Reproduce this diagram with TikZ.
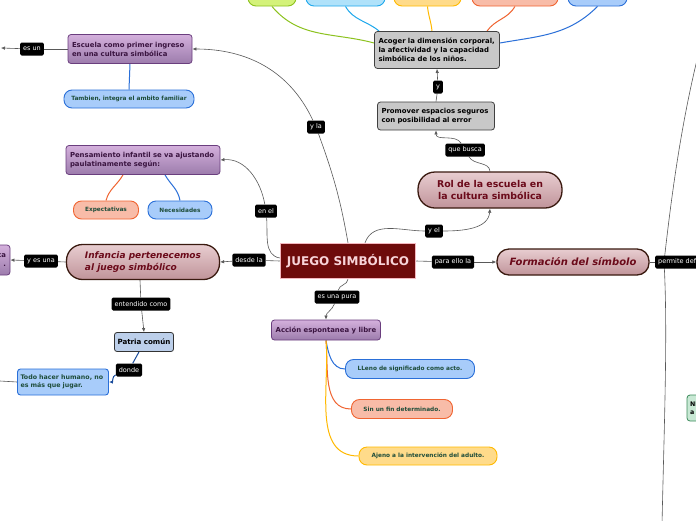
\documentclass[tikz,border=0pt]{standalone}
\usepackage{fontspec}
\setmainfont{DejaVu Sans}
\usepackage{xcolor}
\usetikzlibrary{arrows.meta,backgrounds}

\definecolor{juegoRed}{HTML}{6E0B0B}
\definecolor{juegoRim}{HTML}{F4B8C0}
\definecolor{rolTop}{HTML}{E8CDD0}
\definecolor{rolBot}{HTML}{C0949A}
\definecolor{rolRim}{HTML}{3A1A10}
\definecolor{rolText}{HTML}{6B0A1A}
\definecolor{purpTop}{HTML}{D4B0DC}
\definecolor{purpBot}{HTML}{9C7CAC}
\definecolor{purpRim}{HTML}{6A3E7E}
\definecolor{purpText}{HTML}{3A1440}
\definecolor{grayFill}{HTML}{C8C8C8}
\definecolor{grayRim}{HTML}{404040}
\definecolor{pillText}{HTML}{1E4D3A}
\definecolor{blueFill}{HTML}{A8CCFA}
\definecolor{blueRim}{HTML}{2A6FD8}
\definecolor{orangeFill}{HTML}{F8BCA8}
\definecolor{orangeRim}{HTML}{F06532}
\definecolor{yellowFill}{HTML}{FFDB8A}
\definecolor{yellowRim}{HTML}{FFB900}
\definecolor{limeFill}{HTML}{D4F27A}
\definecolor{limeRim}{HTML}{8CC21E}
\definecolor{skyFill}{HTML}{B0E2FA}
\definecolor{skyRim}{HTML}{1EA8EC}
\definecolor{patriaFill}{HTML}{BCCFEA}
\definecolor{dondeLine}{HTML}{1A4C9C}
\definecolor{mintFill}{HTML}{C8E8D4}
\definecolor{mintRim}{HTML}{3C8C5C}

\begin{document}
\begin{tikzpicture}[x=1pt, y=1pt, >={Latex[length=4pt,width=3.5pt]},
    juego/.style={fill=juegoRed, draw=juegoRim, line width=1.5pt, text=juegoRim!60!white,
        minimum width=135, minimum height=35, inner sep=0pt,
        font=\fontsize{12}{14}\selectfont\bfseries},
    topic/.style={top color=rolTop, bottom color=rolBot, draw=rolRim, line width=1.3pt,
        text=rolText, inner sep=0pt},
    purp/.style={top color=purpTop, bottom color=purpBot, draw=purpRim, line width=0.8pt,
        rounded corners=3pt, text=purpText, align=left, inner xsep=4pt, inner ysep=0pt,
        font=\fontsize{6.9}{9}\selectfont\bfseries},
    graybox/.style={fill=grayFill, draw=grayRim, line width=0.8pt, rounded corners=3pt,
        align=left, inner xsep=4pt, inner ysep=0pt, font=\fontsize{6.9}{9}\selectfont\bfseries},
    pill/.style 2 args={fill=#1, draw=#2, line width=0.9pt, rounded corners=8pt,
        text=pillText, minimum height=18, inner sep=0pt,
        font=\fontsize{5.8}{7}\selectfont\bfseries},
    lbl/.style={fill=black, text=white, rounded corners=1.5pt, inner xsep=3pt, inner ysep=0pt,
        minimum height=13, font=\fontsize{6.5}{7}\selectfont},
    link/.style={draw=black!65, line width=0.6pt},
    branch/.style={line width=1pt, draw=#1}
]
    \useasboundingbox (0,0) rectangle (696,-520);

    % Central node
    \node[juego] (juego) at (348,-261) {JUEGO SIMBÓLICO};

    % Main topics
    \node[topic, rounded corners=17pt, minimum width=144, minimum height=36, align=center,
        font=\fontsize{9.4}{12}\selectfont\bfseries] (rol) at (490,-190)
        {Rol de la escuela en\\la cultura simbólica};
    \node[topic, rounded corners=12pt, minimum width=152, minimum height=26,
        font=\fontsize{10}{12}\selectfont\bfseries\itshape] (form) at (573,-262)
        {Formación del símbolo};
    \node[topic, rounded corners=16pt, minimum width=153, minimum height=35, align=left,
        font=\fontsize{9}{11.5}\selectfont\bfseries\itshape] (inf) at (143,-262)
        {Infancia pertenecemos\\al juego simbólico};

    % Subtopics
    \node[purp, text width=116, minimum height=29] (esc) at (130,-49)
        {Escuela como primer ingreso\\en una cultura simbólica};
    \node[pill={blueFill}{blueRim}, minimum width=130] (tamb) at (129,-99)
        {Tambien, integra el ambito familiar};
    \node[purp, text width=146, minimum height=29] (pens) at (143,-160)
        {Pensamiento infantil se va ajustando\\paulatinamente según:};
    \node[pill={orangeFill}{orangeRim}, minimum width=65] (expe) at (106,-210) {Expectativas};
    \node[pill={blueFill}{blueRim}, minimum width=64] (nece) at (180,-210) {Necesidades};
    \node[graybox, text width=117, minimum height=37] (acog) at (437,-50)
        {Acoger la dimensión corporal,\\la afectividad y la capacidad\\simbólica de los niños.};
    \node[graybox, text width=109, minimum height=28] (prom) at (436,-116)
        {Promover espacios seguros\\con posibilidad al error};
    \node[purp, align=center, minimum width=109, minimum height=20] (accion) at (326,-330)
        {Acción espontanea y libre};
    \node[pill={blueFill}{blueRim}, minimum width=129, minimum height=19] (lleno) at (410,-369)
        {LLeno de significado como acto.};
    \node[pill={orangeFill}{orangeRim}, minimum width=101, minimum height=19] (sinfin) at (402,-409)
        {Sin un fin determinado.};
    \node[pill={yellowFill}{yellowRim}, minimum width=138] (ajeno) at (428,-456)
        {Ajeno a la intervención del adulto.};
    \node[fill=patriaFill, draw=black!80, line width=0.8pt, rounded corners=2.5pt,
        minimum width=59, minimum height=19, inner sep=0pt,
        font=\fontsize{7.1}{8}\selectfont\bfseries] (patria) at (144,-342) {Patria común};
    \node[fill=blueFill, draw=blueRim, line width=0.9pt, rounded corners=3pt, text=pillText,
        text width=85, inner xsep=3pt, inner ysep=0pt, minimum height=26, align=left,
        font=\fontsize{6.3}{7.5}\selectfont\bfseries] (todo) at (63,-382)
        {Todo hacer humano, no\\es más que jugar.};

    % Boxes cut by the edges
    \node[pill={limeFill}{limeRim}, minimum width=48] (topa) at (272,3) {};
    \node[pill={skyFill}{skyRim}, minimum width=79] (topb) at (345.5,3) {};
    \node[pill={yellowFill}{yellowRim}, minimum width=67] (topc) at (427.5,3) {};
    \node[pill={orangeFill}{orangeRim}, minimum width=86] (topd) at (515,3) {};
    \node[pill={blueFill}{blueRim}, minimum width=59] (tope) at (597.5,3) {};
    \node[purp, text width=92, minimum height=30, align=right] (leftbox) at (-40,-260)
        {ca\\.};
    \node[fill=mintFill, draw=mintRim, line width=0.8pt, rounded corners=3pt, text width=60,
        inner xsep=3pt, minimum height=26, align=left,
        font=\fontsize{6.3}{7.5}\selectfont\bfseries] (rightbox) at (720,-408) {NI\\a};

    % Labels
    \node[lbl] (l_esun) at (32,-49) {es un};
    \node[lbl] (l_yla) at (316,-127) {y la};
    \node[lbl] (l_quebusca) at (465,-150) {que busca};
    \node[lbl] (l_y) at (438,-87) {y};
    \node[lbl] (l_enel) at (266,-211) {en el};
    \node[lbl] (l_yel) at (434,-231) {y el};
    \node[lbl] (l_desde) at (249,-260) {desde la};
    \node[lbl] (l_yesuna) at (41,-261) {y es una};
    \node[lbl] (l_para) at (453,-262) {para ello la};
    \node[lbl, anchor=west] (l_permite) at (655,-262) {permite definir};
    \node[lbl] (l_pura) at (337,-297) {es una pura};
    \node[lbl] (l_entend) at (141,-304) {entendido como};
    \node[lbl] (l_donde) at (129,-370) {donde};

    % Free ends
    \coordinate (edgeL1) at (1,-48);
    \coordinate (edgeL2) at (0,-381);
    \coordinate (fork) at (664,-262);
    \coordinate (rtop) at (702,-40);
    \coordinate (rbot) at (662,-525);

    % Connectors
    \begin{pgfonlayer}{background}
        \fill[white] (0,0) rectangle (696,-520);
        \draw[link] (juego.north) to[out=100,in=-70] (l_yla);
        \draw[link,->] (l_yla) to[out=115,in=0] (esc.east);
        \draw[link] (esc.west) -- (l_esun);
        \draw[link,->] (l_esun) -- (edgeL1);
        \draw[branch=blueRim] (esc.south) -- (tamb.north);
        \draw[link] ([yshift=3pt]juego.west) to[out=170,in=-85] (l_enel);
        \draw[link,->] (l_enel) to[out=100,in=5] (pens.east);
        \draw[branch=orangeRim] ([xshift=-20pt]pens.south) to[out=-120,in=75] (expe.north);
        \draw[branch=blueRim] ([xshift=22pt]pens.south) to[out=-60,in=100] (nece.north);
        \draw[link] (juego.west) -- (l_desde);
        \draw[link,->] (l_desde) -- (inf.east);
        \draw[link] (inf.west) -- (l_yesuna);
        \draw[link,->] (l_yesuna) -- (leftbox.east);
        \draw[link] ([xshift=-3pt]inf.south) -- (l_entend);
        \draw[link,->] (l_entend) -- (patria.north);
        \draw[branch=dondeLine] ([xshift=-5pt]patria.south) -- (l_donde);
        \draw[branch=dondeLine,->] (l_donde) to[out=-160,in=0] (todo.east);
        \draw[link] (todo.west) -- (edgeL2);
        \draw[link] (juego.south) to[out=-95,in=80] (l_pura);
        \draw[link,->] (l_pura) to[out=-110,in=90] (accion.north);
        \draw[branch=blueRim] (accion.south) to[out=-80,in=180] (lleno.west);
        \draw[branch=orangeRim] (accion.south) to[out=-85,in=180] (sinfin.west);
        \draw[branch=yellowRim] (accion.south) to[out=-85,in=180] (ajeno.west);
        \draw[link] (juego.east) -- (l_para);
        \draw[link,->] (l_para) -- (form.west);
        \draw[link] (form.east) -- (l_permite.west);
        \draw[link] (fork) .. controls (671,-200) and (681,-120) .. (rtop);
        \draw[link] (fork) .. controls (668,-330) and (664,-430) .. (rbot);
        \draw[link] ([xshift=17pt]juego.north) to[out=70,in=180] (l_yel);
        \draw[link,->] (l_yel) to[out=0,in=-95] (rol.south);
        \draw[link] (rol.north) to[out=95,in=-60] (l_quebusca);
        \draw[link,->] (l_quebusca) to[out=120,in=-90] (prom.south);
        \draw[link] (prom.north) -- (l_y);
        \draw[link,->] (l_y) -- (acog.south);
        \draw[branch=limeRim] ([yshift=7pt]acog.west) to[out=165,in=-50] (topa.south);
        \draw[branch=skyRim] ([xshift=5pt]acog.north west) to[out=140,in=-60] (topb.south);
        \draw[branch=yellowRim] ([xshift=-5pt]acog.north) to[out=95,in=-85] (topc.south);
        \draw[branch=orangeRim] ([xshift=50pt]acog.north) to[out=55,in=-120] (topd.south);
        \draw[branch=blueRim] ([yshift=7pt]acog.east) to[out=10,in=-135] (tope.south);
    \end{pgfonlayer}
\end{tikzpicture}
\end{document}
